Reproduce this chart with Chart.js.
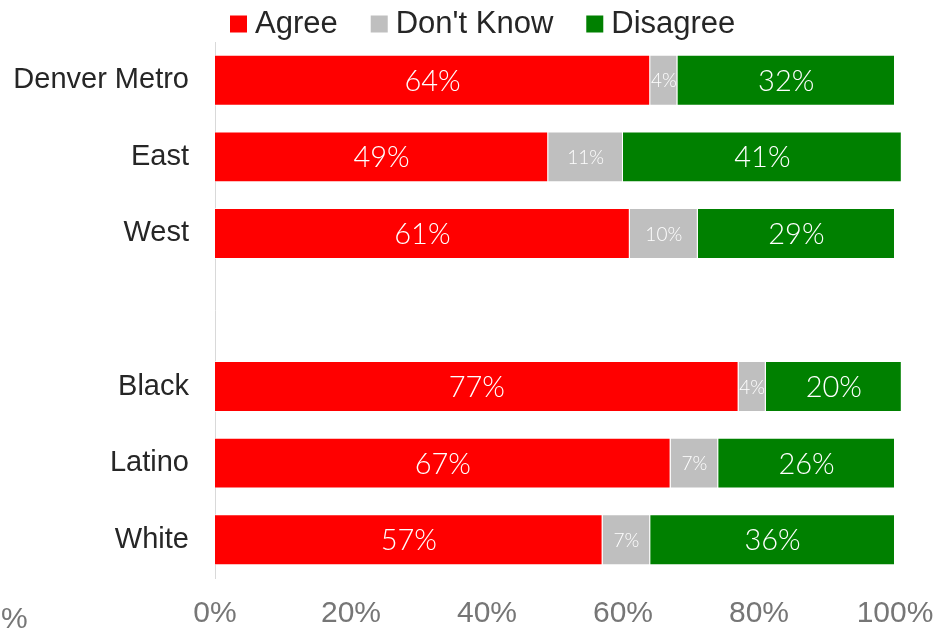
<!DOCTYPE html>
<html>
<head>
<meta charset="utf-8">
<script src="https://cdn.jsdelivr.net/npm/chart.js@4.4.0/dist/chart.umd.min.js"></script>
<style>
  html, body { margin: 0; padding: 0; background: #fff; }
  #wrap { width: 938px; height: 635px; }
</style>
</head>
<body>
<div id="wrap"><canvas id="chart" width="938" height="635"></canvas></div>
<script>
// Grup başına cevap dağılımı (yüzde)
const categories = ['Denver Metro', 'East', 'West', '', 'Black', 'Latino', 'White'];
const agree     = [64, 49, 61, null, 77, 67, 57];
const dontKnow  = [4, 11, 10, null, 4, 7, 7];
const disagree  = [32, 41, 29, null, 20, 26, 36];
const xTicks    = [0, 20, 40, 60, 80, 100];

const labelFont = "'Lato', 'Open Sans', sans-serif";
const axisFont = "'Liberation Sans', Arial, sans-serif";

// Bar ortasına yüzde yaz
const barLabels = {
    id: 'barLabels',
    afterDatasetsDraw(chart) {
        const ctx = chart.ctx;
        ctx.save();
        ctx.textAlign = 'center';
        ctx.textBaseline = 'middle';
        ctx.fillStyle = '#ffffff';
        chart.data.datasets.forEach((ds, i) => {
            const meta = chart.getDatasetMeta(i);
            meta.data.forEach((bar, j) => {
                const v = ds.data[j];
                if (v == null) return;
                const size = i === 1 ? 19 : 29;
                ctx.font = '300 ' + size + 'px ' + labelFont;
                ctx.fillText(v + '%', (bar.x + bar.base) / 2, bar.y + 1);
            });
        });
        ctx.restore();
    }
};

// Üstteki lejant: kutu + metin, elle çiziliyor
const topLegend = {
    id: 'topLegend',
    afterDraw(chart) {
        const ctx = chart.ctx;
        ctx.save();
        ctx.font = '31px ' + axisFont;
        ctx.textBaseline = 'middle';
        ctx.textAlign = 'left';
        const items = chart.data.datasets.map(d => ({ text: d.label, color: d.backgroundColor }));
        const box = 17, gap = 8, space = 33;
        let x = 230;
        const y = 24;
        items.forEach(it => {
            ctx.fillStyle = it.color;
            ctx.fillRect(x, y - box / 2, box, box);
            x += box + gap;
            ctx.fillStyle = '#262626';
            ctx.fillText(it.text, x, y);
            x += ctx.measureText(it.text).width + space;
        });
        ctx.restore();
    }
};

// Sol alttaki kesik "%" etiketi
const strayPercent = {
    id: 'strayPercent',
    afterDraw(chart) {
        const ctx = chart.ctx;
        ctx.save();
        ctx.font = '30px ' + axisFont;
        ctx.fillStyle = '#767676';
        ctx.textAlign = 'left';
        ctx.textBaseline = 'middle';
        ctx.fillText('%', 1, 620);
        ctx.restore();
    }
};

new Chart(document.getElementById('chart'), {
    type: 'bar',
    data: {
        labels: categories,
        datasets: [
            { label: 'Agree', data: agree, backgroundColor: '#ff0000' },
            { label: "Don't Know", data: dontKnow, backgroundColor: '#bfbfbf' },
            { label: 'Disagree', data: disagree, backgroundColor: '#008000' }
        ].map(d => Object.assign(d, {
            borderColor: 'rgba(255,255,255,0.6)',
            borderWidth: 1,
            categoryPercentage: 1,
            barPercentage: 0.665,
            clip: false
        }))
    },
    options: {
        indexAxis: 'y',
        responsive: false,
        animation: false,
        layout: { padding: { left: 0, right: 43, top: 42, bottom: 0 } },
        plugins: {
            legend: { display: false },
            tooltip: { enabled: false }
        },
        scales: {
            x: {
                stacked: true,
                min: 0,
                max: 100,
                afterBuildTicks: s => { s.ticks = xTicks.map(v => ({ value: v })); },
                afterFit: s => { s.height = 57; s.paddingLeft = 0; s.paddingRight = 0; },
                grid: { display: false },
                border: { display: false },
                ticks: {
                    callback: v => v + '%',
                    font: { family: axisFont, size: 30 },
                    color: '#767676',
                    padding: 10,
                    maxRotation: 0
                }
            },
            y: {
                stacked: true,
                afterFit: s => { s.width = 215; },
                grid: { display: false },
                border: { display: true, color: '#d9d9d9', width: 1 },
                ticks: {
                    font: { family: axisFont, size: 29 },
                    color: '#262626',
                    padding: 18
                }
            }
        }
    },
    plugins: [barLabels, topLegend, strayPercent]
});
</script>
</body>
</html>
